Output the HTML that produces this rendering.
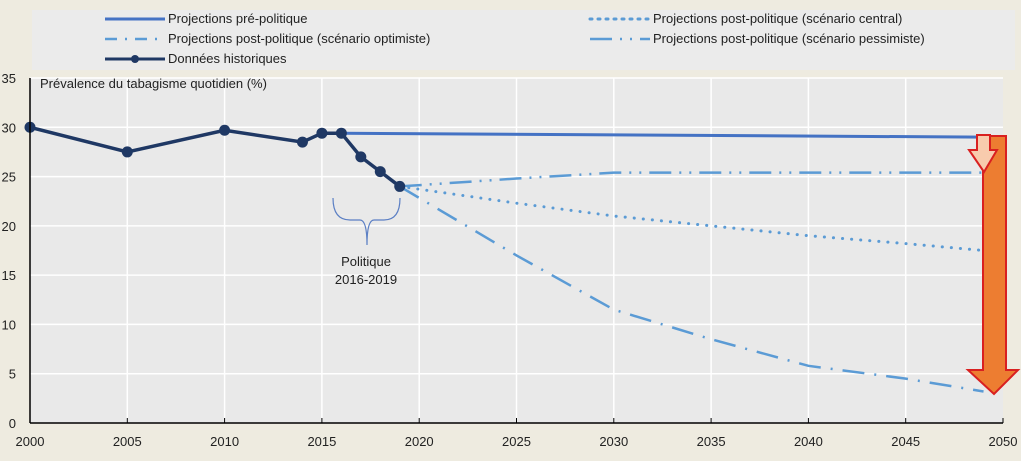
<!DOCTYPE html>
<html><head><meta charset="utf-8"><style>
body{margin:0;background:#eeebe0;font-family:"Liberation Sans",sans-serif}
svg{display:block}
text{font-family:"Liberation Sans",sans-serif;fill:#222}
</style></head><body>
<svg id="c" width="1021" height="461">
<rect x="0" y="0" width="1021" height="461" fill="#eeebe0"/>
<rect x="32" y="10" width="983" height="60" fill="#ebebeb"/>
<rect x="30" y="78" width="973" height="345" fill="#e9e9e9"/>
<g id="grid"></g><g id="series"></g><g id="axes"></g>
<g>
<line x1="105" y1="19" x2="165" y2="19" stroke="#4472c4" stroke-width="3"/>
<text x="168" y="23" font-size="13">Projections pré-politique</text>
<line x1="105" y1="39" x2="165" y2="39" stroke="#5b9bd5" stroke-width="2.5" stroke-dasharray="12,8,2,8"/>
<text x="168" y="43" font-size="13">Projections post-politique (scénario optimiste)</text>
<line x1="105" y1="59" x2="165" y2="59" stroke="#1f3864" stroke-width="3"/>
<circle cx="135" cy="59" r="4" fill="#1f3864"/>
<text x="168" y="63" font-size="13">Données historiques</text>
<line x1="590" y1="19" x2="650" y2="19" stroke="#5b9bd5" stroke-width="3" stroke-dasharray="2,6" stroke-linecap="round"/>
<text x="653" y="23" font-size="13">Projections post-politique (scénario central)</text>
<line x1="590" y1="39" x2="650" y2="39" stroke="#5b9bd5" stroke-width="2.5" stroke-dasharray="22,8,2,8,2,8"/>
<text x="653" y="43" font-size="13">Projections post-politique (scénario pessimiste)</text>
</g>
<text x="40" y="88" font-size="13">Prévalence du tabagisme quotidien (%)</text>
<path d="M333,198 Q333,220 350,220 L360,220 Q367,220 367,245 Q367,220 374,220 L384,220 Q400,220 400,198" fill="none" stroke="#5b7fc4" stroke-width="1.2"/>
<text x="366" y="266" font-size="13" text-anchor="middle">Politique</text>
<text x="366" y="284" font-size="13" text-anchor="middle">2016-2019</text>
<polygon points="983,136 1006,136 1006,370 1018,370 994,394 968,370 983,370" fill="#ed7d31" stroke="#d92020" stroke-width="2"/>
<polygon points="977,135 990,135 990,150 997,150 984,172 969,150 977,150" fill="#f8cbad" stroke="#d92020" stroke-width="2"/>
</svg>
<script>
const histYears=[2000,2005,2010,2014,2015,2016,2017,2018,2019];
const histVals=[30,27.5,29.7,28.5,29.4,29.4,27,25.5,24];
const preYears=[2016,2049];
const preVals=[29.4,29.0];
const projYears=[2019,2025,2030,2035,2040,2045,2049];
const centralVals=[24,22.3,21,20,19,18.2,17.5];
const optVals=[24,17,11.5,8.5,5.8,4.5,3.2];
const pessVals=[24,24.8,25.4,25.4,25.4,25.4,25.4];
const xTicks=[2000,2005,2010,2015,2020,2025,2030,2035,2040,2045,2050];
const yTicks=[0,5,10,15,20,25,30,35];
const X=y=>30+(y-2000)*973/50, Y=v=>423-v*345/35;
const NS='http://www.w3.org/2000/svg';
function mk(p,t,a){const e=document.createElementNS(NS,t);for(const k in a)e.setAttribute(k,a[k]);document.getElementById(p).appendChild(e);return e;}
yTicks.forEach(v=>{
 if(v>0){const l=mk('grid','line',{x1:30,x2:1003,y1:Y(v),y2:Y(v),stroke:'#fff','stroke-width':1.5});
 
 }
 const t=mk('axes','text',{x:16,y:Y(v)+5,'font-size':13,'text-anchor':'end'});t.textContent=v;
 
 
});
xTicks.forEach(y=>{
 if(y>2000&&y<2050){const l=mk('grid','line',{x1:X(y),x2:X(y),y1:78,y2:423,stroke:'#fff','stroke-width':1.5});
 
 }
 mk('axes','line',{x1:X(y),x2:X(y),y1:418,y2:423,stroke:'#000'});
 const t=mk('axes','text',{x:X(y),y:446,'font-size':13,'text-anchor':'middle'});t.textContent=y;
 
 
});
const xa=mk('axes','line',{x1:30,x2:1003,y1:423,y2:423,stroke:'#000','stroke-width':1.5});


const ya=mk('axes','line',{x1:30,x2:30,y1:78,y2:423,stroke:'#000','stroke-width':1.5});


function line(xs,vs,name,attrs){
 const e=mk('series','polyline',Object.assign({points:xs.map((x,i)=>X(x)+','+Y(vs[i])).join(' '),fill:'none'},attrs));
 
 
}
line(preYears,preVals,'pre-policy-line',{stroke:'#4472c4','stroke-width':3});
line(projYears,pessVals,'pessimistic-line',{stroke:'#5b9bd5','stroke-width':2.5,'stroke-dasharray':'22,8,2,8,2,8'});
line(projYears,centralVals,'central-line',{stroke:'#5b9bd5','stroke-width':3,'stroke-dasharray':'0.1,9','stroke-linecap':'round'});
line(projYears,optVals,'optimistic-line',{stroke:'#5b9bd5','stroke-width':2.5,'stroke-dasharray':'22,10,2,10'});
line(histYears,histVals,'historical-line',{stroke:'#1f3864','stroke-width':3.5});
histYears.forEach((y,i)=>{const c=mk('series','circle',{cx:X(y),cy:Y(histVals[i]),r:5.5,fill:'#1f3864'});
 
 });
</script>
</body></html>
